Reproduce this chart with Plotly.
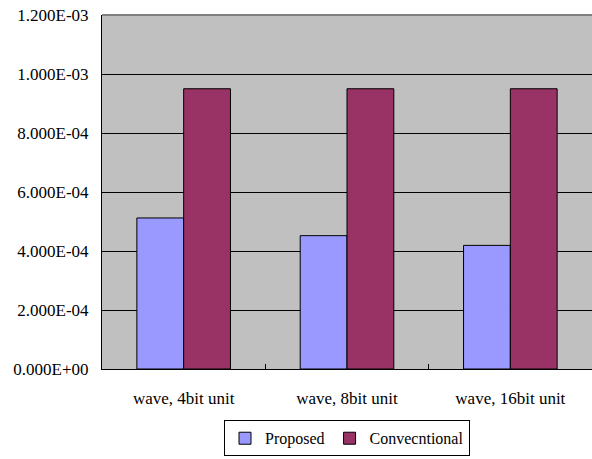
import plotly.graph_objects as go

categories = ["wave, 4bit unit", "wave, 8bit unit", "wave, 16bit unit"]
proposed = [5.12e-4, 4.52e-4, 4.19e-4]
conventional = [9.50e-4, 9.50e-4, 9.50e-4]
ytick_vals = [0, 2e-4, 4e-4, 6e-4, 8e-4, 1e-3, 1.2e-3]
ytick_text = ["0.000E+00", "2.000E-04", "4.000E-04", "6.000E-04",
              "8.000E-04", "1.000E-03", "1.200E-03"]

font_family = "Liberation Serif"

fig = go.Figure()
fig.add_trace(go.Bar(name="Proposed", x=categories, y=proposed,
                     marker=dict(color="#9999FF", line=dict(color="black", width=1))))
fig.add_trace(go.Bar(name="Convecntional", x=categories, y=conventional,
                     marker=dict(color="#993366", line=dict(color="black", width=1))))

fig.update_layout(
    width=592, height=459,
    margin=dict(l=102, r=0, t=15, b=90, autoexpand=False),
    paper_bgcolor="white",
    plot_bgcolor="#C0C0C0",
    barmode="group",
    bargap=0.427,
    bargroupgap=0,
    font=dict(family=font_family, size=17, color="black"),
    showlegend=True,
    legend=dict(orientation="h", x=0.5, xanchor="center", y=-0.145, yanchor="top",
                bordercolor="black", borderwidth=1, bgcolor="white",
                font=dict(family=font_family, size=16), itemwidth=30, tracegroupgap=0),
    xaxis=dict(type="category", range=[-0.5, 2.5], tickson="boundaries",
               ticks="inside", ticklen=5, tickcolor="black",
               showline=True, linecolor="black", linewidth=1,
               showgrid=False, ticklabelstandoff=14, automargin=False,
               tickfont=dict(family=font_family, size=17)),
    yaxis=dict(range=[0, 1.2e-3], tickmode="array", tickvals=ytick_vals,
               ticktext=ytick_text, ticks="inside", ticklen=5, tickcolor="black",
               showline=True, linecolor="black", linewidth=1,
               showgrid=True, gridcolor="black", gridwidth=1,
               zeroline=False, ticklabelstandoff=9, automargin=False,
               tickfont=dict(family=font_family, size=17)),
    shapes=[dict(type="line", xref="paper", yref="paper", x0=0, x1=1, y0=1, y1=1,
                 line=dict(color="#808080", width=2))],
)

fig.write_html("out.html")
